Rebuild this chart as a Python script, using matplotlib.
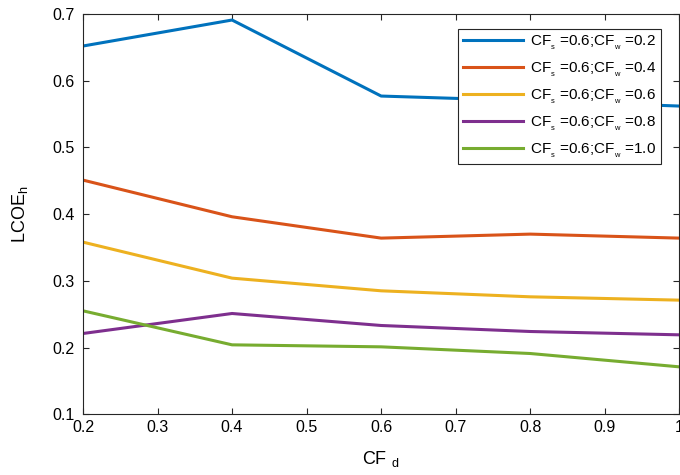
import matplotlib
matplotlib.use('Agg')
import matplotlib.pyplot as plt

cf_d = [0.2, 0.4, 0.6, 0.8, 1.0]
cf_w_labels = ['0.2', '0.4', '0.6', '0.8', '1.0']
lcoe_w02 = [0.652, 0.691, 0.577, 0.570, 0.562]
lcoe_w04 = [0.451, 0.396, 0.364, 0.370, 0.364]
lcoe_w06 = [0.358, 0.304, 0.285, 0.276, 0.271]
lcoe_w08 = [0.221, 0.251, 0.233, 0.224, 0.219]
lcoe_w10 = [0.255, 0.204, 0.201, 0.191, 0.171]
colors = ['#0072BD', '#D95319', '#EDB120', '#7E2F8E', '#77AC30']

plt.rcParams['font.family'] = ['Liberation Sans', 'DejaVu Sans']
plt.rcParams['mathtext.fontset'] = 'custom'
plt.rcParams['mathtext.rm'] = 'Liberation Sans'
plt.rcParams['mathtext.it'] = 'Liberation Sans'

fig = plt.figure(figsize=(6.8, 4.75), dpi=100)
ax = fig.add_axes([0.122, 0.128, 0.877, 0.8425])

series = [lcoe_w02, lcoe_w04, lcoe_w06, lcoe_w08, lcoe_w10]
for vals, c, w in zip(series, colors, cf_w_labels):
	ax.plot(cf_d, vals, color=c, linewidth=2.2,
		label=r'CF$_{_\mathregular{s}}$ =0.6;CF$_{_\mathregular{w}}$ =' + w)

ax.set_xlim(0.2, 1.0)
ax.set_ylim(0.1, 0.7)
ax.set_xticks([0.2, 0.3, 0.4, 0.5, 0.6, 0.7, 0.8, 0.9, 1.0])
ax.set_xticklabels(['0.2', '0.3', '0.4', '0.5', '0.6', '0.7', '0.8', '0.9', '1'])
ax.set_yticks([0.1, 0.2, 0.3, 0.4, 0.5, 0.6, 0.7])
ax.tick_params(direction='in', top=True, right=True, labelsize=11.5, length=4, color='#262626')
ax.tick_params(axis='y', pad=6)
ax.tick_params(axis='x', pad=4)
for s in ax.spines.values():
	s.set_color('#262626')
	s.set_linewidth(0.8)

ax.set_xlabel(r'CF $_\mathregular{d}$', fontsize=13, labelpad=10)
ax.set_ylabel(r'LCOE$_\mathregular{h}$', fontsize=13, labelpad=16)

leg = ax.legend(loc='upper right', bbox_to_anchor=(0.969, 0.962), fontsize=11,
	frameon=True, fancybox=False, framealpha=1, edgecolor='#262626', handlelength=3.95,
	borderpad=0.3, labelspacing=0.58, handletextpad=0.45, borderaxespad=0)
leg.get_frame().set_linewidth(0.8)

plt.savefig('out.png', dpi=100)
